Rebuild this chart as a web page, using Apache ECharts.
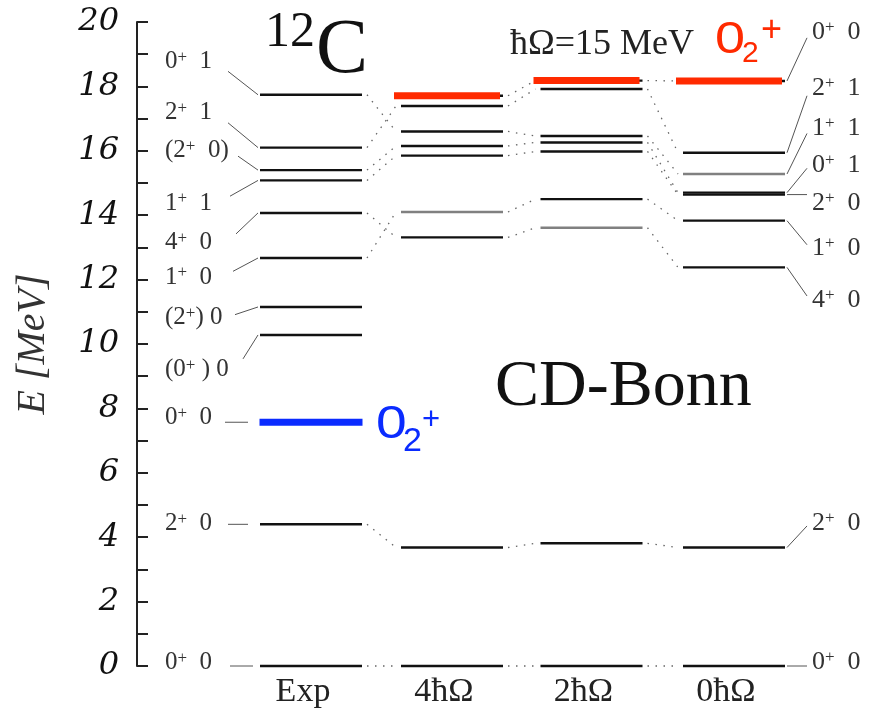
<!DOCTYPE html>
<html><head><meta charset="utf-8">
<script src="https://cdn.jsdelivr.net/npm/echarts@6/dist/echarts.min.js"></script>
<style>html,body{margin:0;padding:0;background:#fff}#c{width:872px;height:714px}</style>
</head><body><div id="c"></div>
<script>
// ---------- data (MeV) ----------
const columns   = ['Exp', '4ħΩ', '2ħΩ', '0ħΩ'];
const expLevels = [0, 4.40, 7.57, 10.28, 11.15, 12.67, 14.07, 15.08, 15.40, 16.10, 17.74];
const expLabels = ['0^+  0', '2^+  0', '0^+  0', '(0^+ ) 0', '(2^+) 0', '1^+  0', '4^+  0', '1^+  1', '(2^+  0)', '2^+  1', '0^+  1'];
const n4Levels  = [0, 3.68, 13.31, 14.10, 15.85, 16.15, 16.60, 17.39, 17.71];
const n2Levels  = [0, 3.81, 13.61, 14.50, 15.98, 16.26, 16.46, 17.92, 18.18];
const n0Levels  = [0, 3.68, 12.38, 13.83, 14.64, 14.70, 15.28, 15.94, 18.17];
const n0Labels  = ['0^+  0', '2^+  0', '4^+  0', '1^+  0', '2^+  0', '0^+  1', '1^+  1', '2^+  1', '0^+  0'];
const o2Exp     = 7.57;                 // blue 0_2^+ (experiment)
const o2Theory  = [17.71, 18.18, 18.17]; // red 0_2^+ in 4,2,0 hbar-Omega
// level correspondences between neighbouring columns (index pairs)
const links01 = [[0,0],[1,1],[10,6],[9,7],[8,5],[7,4],[6,2],[5,3]];
const links12 = [[0,0],[1,1],[2,2],[3,3],[4,4],[5,5],[6,6],[7,7],[8,8]];
const links23 = [[0,0],[1,1],[2,2],[3,3],[4,4],[5,5],[6,6],[7,7],[8,8]];
const yTickLabels = [0, 2, 4, 6, 8, 10, 12, 14, 16, 18, 20];

// ---------- layout (not data) ----------
const xCenter = [174, 315, 454.5, 597];   // x-axis units = px from grid left
const halfW = 51;
const expLabelAt = [0.12, 4.44, 7.73, 9.22, 10.81, 12.08, 13.14, 14.38, 16.02, 17.2, 18.78];
const expLeadX   = [[93,116],[91,111],[88,111],[106,121],[98,121],[96,121],[99,121],[93,121],[101,121],[91,121],[91,121]];
const n0LabelAt  = [0.12, 4.44, 11.37, 12.98, 14.38, 15.56, 16.71, 17.95, 19.69];
const grayLv = {'1-3':1, '2-2':1, '3-6':1};
const allLevels = [expLevels, n4Levels, n2Levels, n0Levels];
const SERIF = '"Liberation Serif","Times New Roman",serif';
const SANS = '"Liberation Sans",Arial,sans-serif';

function richText(s){
  return s.split('^+').map(p => p ? '{n|' + p + '}' : '').join('{s|+}');
}
function richStyle(size, color){
  return {
    n: {fontSize: size, fontFamily: SERIF, fill: color, lineHeight: size},
    s: {fontSize: Math.round(size*0.66), fontFamily: SERIF, fill: color, lineHeight: Math.round(size*0.66), verticalAlign: 'top'}
  };
}

const levelData = [];
allLevels.forEach((arr, c) => arr.forEach((e, i) => levelData.push([c, e, i])));
const linkData = [];
[links01, links12, links23].forEach((ls, c) => ls.forEach(p => linkData.push([c, allLevels[c][p[0]], allLevels[c+1][p[1]]])));
const hiData = [[0, o2Exp, 0]].concat(o2Theory.map((e, k) => [k+1, e, 1]));
const leftData = expLevels.map((e, i) => [i, e]);
const rightData = n0Levels.map((e, i) => [i, e]);
const colData = columns.map((n, c) => [c, -0.8]);

const chart = echarts.init(document.getElementById('c'), null, {renderer: 'canvas'});
chart.setOption({
  animation: false,
  backgroundColor: '#fff',
  grid: {left: 137, right: 0, top: 22, bottom: 48},
  xAxis: {type: 'value', min: 0, max: 735, show: false},
  yAxis: {
    type: 'value', min: 0, max: 20, interval: 1,
    name: 'E [MeV]', nameLocation: 'middle', nameGap: 84,
    nameTextStyle: {fontFamily: SERIF, fontStyle: 'italic', fontSize: 40, color: '#333'},
    axisLine: {show: true, lineStyle: {color: '#222', width: 2}},
    axisTick: {show: true, inside: true, length: 11, lineStyle: {color: '#222', width: 2}},
    splitLine: {show: false},
    axisLabel: {
      margin: 18, fontFamily: '"DejaVu Serif",serif', fontStyle: 'italic', fontSize: 32, color: '#111',
      formatter: v => yTickLabels.indexOf(v) >= 0 ? String(v) : ''
    }
  },
  series: [
    { // dotted correspondences
      type: 'custom', data: linkData, z: 1,
      renderItem: (p, api) => {
        const c = api.value(0);
        const a = api.coord([xCenter[c] + halfW + 5, api.value(1)]);
        const b = api.coord([xCenter[c+1] - halfW - 5, api.value(2)]);
        return {type: 'line', shape: {x1: a[0], y1: a[1], x2: b[0], y2: b[1]},
          style: {stroke: '#666', lineWidth: 1.3, lineDash: [1.5, 6.5]}};
      }
    },
    { // energy levels
      type: 'custom', data: levelData, z: 2,
      renderItem: (p, api) => {
        const c = api.value(0), e = api.value(1), i = api.value(2);
        const a = api.coord([xCenter[c] - halfW, e]);
        const b = api.coord([xCenter[c] + halfW, e]);
        const g = grayLv[c + '-' + i];
        return {type: 'line', shape: {x1: a[0], y1: a[1], x2: b[0], y2: b[1]},
          style: {stroke: g ? '#808080' : '#111', lineWidth: 2.4}};
      }
    },
    { // highlighted 0_2^+ states
      type: 'custom', data: hiData, z: 3,
      renderItem: (p, api) => {
        const c = api.value(0), e = api.value(1), th = api.value(2);
        const off = th ? -5 : 0, hw = th ? 53 : 51.5;
        const a = api.coord([xCenter[c] + off - hw, e]);
        const b = api.coord([xCenter[c] + off + hw, e]);
        return {type: 'line', shape: {x1: a[0], y1: a[1], x2: b[0], y2: b[1]},
          style: {stroke: th ? '#ff2a00' : '#0a2bff', lineWidth: 7}};
      }
    },
    { // experimental labels (left)
      type: 'custom', data: leftData, z: 4,
      renderItem: (p, api) => {
        const i = api.value(0), e = api.value(1);
        const la = expLabelAt[i];
        const t = api.coord([28, la]);
        const sE = Math.abs(e - la) < 0.3 ? e : la + (e - la) * 0.3;
        const s = api.coord([expLeadX[i][0], sE]);
        const d = api.coord([expLeadX[i][1], e]);
        return {type: 'group', children: [
          {type: 'text', x: t[0], y: t[1], style: {text: richText(expLabels[i]), rich: richStyle(25, '#333'),
            align: 'left', verticalAlign: 'middle'}},
          {type: 'line', shape: {x1: s[0], y1: s[1], x2: d[0], y2: d[1]}, style: {stroke: '#555', lineWidth: 1}}
        ]};
      }
    },
    { // 0 hbar-Omega labels (right)
      type: 'custom', data: rightData, z: 4,
      renderItem: (p, api) => {
        const i = api.value(0), e = api.value(1);
        const la = n0LabelAt[i];
        const t = api.coord([675, la]);
        const s = api.coord([xCenter[3] + halfW + 2, e]);
        const dE = Math.abs(e - la) < 0.3 ? e : la + (e - la) * 0.12;
        const d = api.coord([670, dE]);
        return {type: 'group', children: [
          {type: 'text', x: t[0], y: t[1], style: {text: richText(n0Labels[i]), rich: richStyle(26, '#333'),
            align: 'left', verticalAlign: 'middle'}},
          {type: 'line', shape: {x1: s[0], y1: s[1], x2: d[0], y2: d[1]}, style: {stroke: '#555', lineWidth: 1}}
        ]};
      }
    },
    { // column names
      type: 'custom', data: colData, z: 4,
      renderItem: (p, api) => {
        const c = api.value(0);
        const t = api.coord([xCenter[c] - 8, api.value(1)]);
        return {type: 'text', x: t[0], y: t[1], style: {text: columns[c], fontFamily: SERIF, fontSize: 34,
          fill: '#222', align: 'center', verticalAlign: 'middle'}};
      }
    }
  ],
  graphic: [
    {type: 'text', x: 265, y: 33, style: {text: '12', fontFamily: SERIF, fontSize: 50, fill: '#111', align: 'left', verticalAlign: 'middle'}},
    {type: 'text', x: 316, y: 52, style: {text: 'C', fontFamily: SERIF, fontSize: 78, fill: '#111', align: 'left', verticalAlign: 'middle'}},
    {type: 'text', x: 510, y: 45, style: {text: 'ħΩ=15 MeV', fontFamily: SERIF, fontSize: 36, fill: '#222', align: 'left', verticalAlign: 'middle'}},
    {type: 'text', x: 495, y: 388, style: {text: 'CD-Bonn', fontFamily: SERIF, fontSize: 66, fill: '#111', align: 'left', verticalAlign: 'middle'}},
    {type: 'text', x: 715, y: 41, scaleX: 1.2, style: {text: '0', fontFamily: SANS, fontSize: 45, fill: '#ff2a00', align: 'left', verticalAlign: 'middle'}},
    {type: 'text', x: 742, y: 54, style: {text: '2', fontFamily: SANS, fontSize: 30, fill: '#ff2a00', align: 'left', verticalAlign: 'middle'}},
    {type: 'text', x: 761, y: 31, style: {text: '+', fontFamily: SANS, fontSize: 36, fill: '#ff2a00', align: 'left', verticalAlign: 'middle'}},
    {type: 'text', x: 376, y: 425, scaleX: 1.2, style: {text: '0', fontFamily: SANS, fontSize: 46, fill: '#0a2bff', align: 'left', verticalAlign: 'middle'}},
    {type: 'text', x: 403, y: 442, style: {text: '2', fontFamily: SANS, fontSize: 34, fill: '#0a2bff', align: 'left', verticalAlign: 'middle'}},
    {type: 'text', x: 422, y: 420, style: {text: '+', fontFamily: SANS, fontSize: 31, fill: '#0a2bff', align: 'left', verticalAlign: 'middle'}}
  ]
});
</script></body></html>
